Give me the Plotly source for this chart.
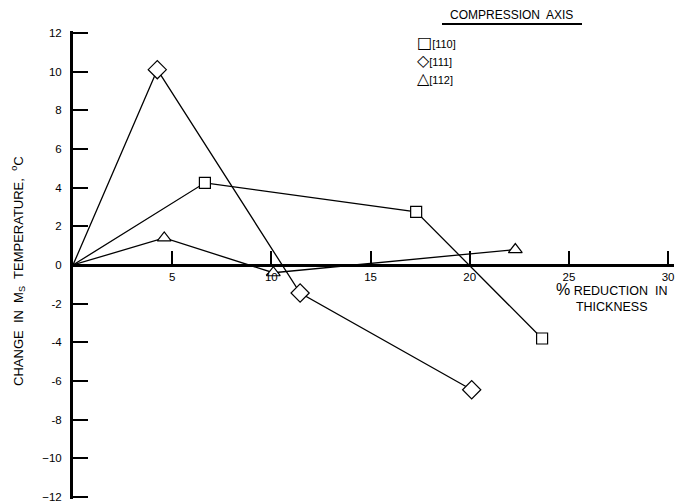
import plotly.graph_objects as go

# Change in Ms temperature vs % reduction in thickness, by compression axis
series_names = ["[110]", "[111]", "[112]"]
reduction_110 = [0.0, 6.65, 17.3, 23.65]
dms_110 = [0.0, 4.25, 2.75, -3.8]
reduction_111 = [0.0, 4.25, 11.45, 20.1]
dms_111 = [0.0, 10.1, -1.45, -6.45]
reduction_112 = [0.0, 4.6, 10.1, 22.3]
dms_112 = [0.0, 1.4, -0.4, 0.8]

x_ticks = [5, 10, 15, 20, 25, 30]
y_ticks = list(range(-12, 13, 2))
y_tick_text = [("\u221212" if v == -12 else ("\u221210" if v == -10 else str(v))) for v in y_ticks]

W, H = 676, 503
ML, MR, MT, MB = 73, 2, 31, 0
XR = [0, 30.3]
YR = [-12.1, 12.1]
FONT = "Liberation Sans, Arial, sans-serif"


def px(xp):
    return (xp - ML) / (W - ML - MR)


def py(yp):
    return (H - MB - yp) / (H - MT - MB)


fig = go.Figure()

styles = [
    (reduction_110, dms_110, "square", 11),
    (reduction_111, dms_111, "diamond", 14),
    (reduction_112, dms_112, "triangle-up", 12),
]
for name, (xs, ys, sym, size) in zip(series_names, styles):
    fig.add_trace(go.Scatter(
        x=xs, y=ys, name=name, mode="lines+markers",
        line=dict(color="black", width=1.3),
        marker=dict(symbol=sym, size=size, color="white",
                    opacity=[0] + [1] * (len(xs) - 1),
                    line=dict(color="black", width=1.2)),
        showlegend=False, cliponaxis=False,
    ))

fig.update_layout(
    width=W, height=H,
    margin=dict(l=ML, r=MR, t=MT, b=MB),
    paper_bgcolor="white", plot_bgcolor="white",
    font=dict(family=FONT, color="black", size=11),
    showlegend=False,
    xaxis=dict(
        range=XR, showgrid=False, zeroline=False,
        showline=True, linecolor="black", linewidth=3,
        anchor="free", position=(0 - YR[0]) / (YR[1] - YR[0]),
        tickvals=x_ticks, ticktext=[str(v) for v in x_ticks],
        ticks="inside", ticklen=13, tickwidth=1.6, tickcolor="black",
        ticklabeloverflow="allow",
        tickfont=dict(size=11.5, family=FONT),
    ),
    yaxis=dict(
        range=YR, showgrid=False, zeroline=False,
        showline=True, linecolor="black", linewidth=3,
        tickvals=y_ticks, ticktext=y_tick_text,
        ticks="inside", ticklen=15, tickwidth=1.8, tickcolor="black",
        ticklabelstandoff=6, ticklabeloverflow="allow",
        tickfont=dict(size=11.5, family=FONT),
    ),
)

# axis titles
fig.add_annotation(
    xref="paper", yref="paper", x=px(18), y=py(273), textangle=-90,
    showarrow=False, xanchor="center", yanchor="middle",
    text="CHANGE\u00a0 IN\u00a0 M<sub>S</sub>\u00a0 TEMPERATURE,\u00a0 <sup>o</sup>C",
    font=dict(size=13, family=FONT),
)
fig.add_annotation(
    xref="paper", yref="paper", x=px(611), y=py(300),
    showarrow=False, xanchor="center", yanchor="middle", align="center",
    text="<span style='font-size:16px'>%</span> REDUCTION\u00a0 IN<br>THICKNESS",
    font=dict(size=12.5, family=FONT),
)

# legend block
fig.add_annotation(
    xref="paper", yref="paper", x=px(511), y=py(15),
    showarrow=False, xanchor="center", yanchor="middle",
    text="COMPRESSION\u00a0 AXIS", font=dict(size=12, family=FONT),
)
fig.add_shape(type="line", xref="paper", yref="paper",
              x0=px(442), x1=px(582), y0=py(24), y1=py(24),
              line=dict(color="black", width=2))
glyphs = ["\u25a1", "\u25c7", "\u25b3"]
legend_y = [43, 61, 79]
for g, name, yy in zip(glyphs, series_names, legend_y):
    fig.add_annotation(
        xref="paper", yref="paper", x=px(415), y=py(yy),
        showarrow=False, xanchor="left", yanchor="middle",
        text=f"<span style='font-family:DejaVu Sans;font-size:16px'>{g}</span>{name}",
        font=dict(size=11, family=FONT),
    )

fig.write_html("out.html")
